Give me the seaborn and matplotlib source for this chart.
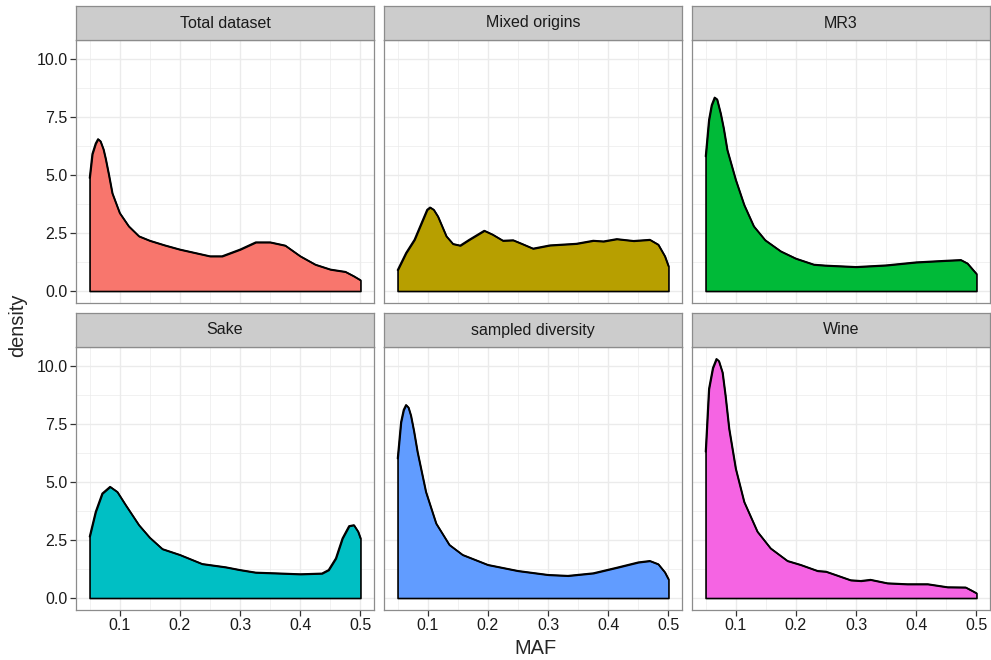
import matplotlib
matplotlib.use("Agg")
import matplotlib.pyplot as plt
import seaborn as sns
import numpy as np
import pandas as pd

sns.set_theme(style="white")
plt.rcParams['font.family'] = ['Liberation Sans', 'DejaVu Sans']

# facet labels and ggplot default hue colours
panels = ['Total dataset', 'Mixed origins', 'MR3', 'Sake', 'sampled diversity', 'Wine']
colors = ['#F8766D', '#B79F00', '#00BA38', '#00BFC4', '#619CFF', '#F564E3']

# density curves
maf_total = [0.05, 0.0545, 0.060, 0.064, 0.068, 0.073, 0.0766, 0.082, 0.0877, 0.1, 0.115, 0.132,
             0.15, 0.175, 0.2, 0.25, 0.27, 0.3, 0.326, 0.35, 0.375, 0.4, 0.425, 0.45, 0.475,
             0.489, 0.5]
dens_total = [4.86, 5.9, 6.35, 6.54, 6.45, 6.1, 5.7, 5.0, 4.21, 3.36, 2.79, 2.36,
              2.17, 1.97, 1.79, 1.5, 1.5, 1.79, 2.1, 2.1, 1.96, 1.5, 1.14, 0.93, 0.83,
              0.64, 0.47]

maf_mixed = [0.05, 0.064, 0.078, 0.092, 0.099, 0.104, 0.110, 0.117, 0.131, 0.142, 0.154, 0.169,
             0.194, 0.208, 0.225, 0.242, 0.256, 0.275, 0.303, 0.347, 0.375, 0.392, 0.414, 0.442,
             0.469, 0.483, 0.494, 0.5]
dens_mixed = [0.9, 1.64, 2.21, 3.07, 3.5, 3.6, 3.5, 3.21, 2.36, 2.03, 1.96, 2.21,
              2.6, 2.43, 2.17, 2.19, 2.04, 1.83, 1.97, 2.04, 2.17, 2.14, 2.24, 2.16,
              2.21, 2.0, 1.5, 1.07]

maf_mr3 = [0.05, 0.0555, 0.060, 0.065, 0.069, 0.075, 0.080, 0.086, 0.1, 0.114, 0.13, 0.149,
           0.175, 0.2, 0.23, 0.25, 0.3, 0.35, 0.4, 0.45, 0.474, 0.485, 0.5]
dens_mr3 = [5.79, 7.36, 8.0, 8.33, 8.25, 7.64, 7.0, 6.07, 4.79, 3.71, 2.79, 2.19,
            1.71, 1.4, 1.14, 1.1, 1.04, 1.11, 1.24, 1.31, 1.34, 1.19, 0.74]

maf_sake = [0.05, 0.06, 0.071, 0.084, 0.096, 0.11, 0.132, 0.15, 0.171, 0.2, 0.237, 0.276, 0.3,
            0.326, 0.359, 0.4, 0.436, 0.447, 0.459, 0.47, 0.481, 0.489, 0.496, 0.5]
dens_sake = [2.64, 3.71, 4.5, 4.79, 4.57, 4.0, 3.14, 2.6, 2.11, 1.86, 1.47, 1.33, 1.21,
             1.1, 1.07, 1.03, 1.06, 1.21, 1.71, 2.57, 3.1, 3.14, 2.86, 2.57]

maf_sampled = [0.05, 0.0556, 0.060, 0.064, 0.068, 0.072, 0.077, 0.083, 0.097, 0.114, 0.136,
               0.158, 0.2, 0.25, 0.3, 0.333, 0.375, 0.414, 0.45, 0.469, 0.483, 0.494, 0.5]
dens_sampled = [6.0, 7.57, 8.1, 8.31, 8.2, 7.86, 7.2, 6.29, 4.57, 3.21, 2.29,
                1.86, 1.43, 1.17, 1.0, 0.96, 1.07, 1.31, 1.54, 1.6, 1.46, 1.11, 0.81]

maf_wine = [0.05, 0.0555, 0.062, 0.068, 0.072, 0.078, 0.083, 0.089, 0.1, 0.114, 0.136, 0.158,
            0.186, 0.208, 0.236, 0.25, 0.269, 0.291, 0.308, 0.324, 0.352, 0.385, 0.419, 0.452,
            0.482, 0.493, 0.5]
dens_wine = [6.29, 9.0, 9.9, 10.29, 10.2, 9.71, 8.7, 7.29, 5.57, 4.14, 2.86, 2.14,
             1.6, 1.43, 1.17, 1.14, 0.97, 0.77, 0.74, 0.79, 0.64, 0.6, 0.6, 0.47,
             0.46, 0.31, 0.21]

curves = [(maf_total, dens_total), (maf_mixed, dens_mixed), (maf_mr3, dens_mr3),
          (maf_sake, dens_sake), (maf_sampled, dens_sampled), (maf_wine, dens_wine)]

x_ticks = [0.1, 0.2, 0.3, 0.4, 0.5]
y_ticks = [0.0, 2.5, 5.0, 7.5, 10.0]

W, H = 991, 660
fig = plt.figure(figsize=(W / 100, H / 100), dpi=100)

col_left = [76, 384, 692]
panel_w = 298
row_top = [40, 347]      # top of plotting area (px)
panel_h = 263
strip_h = 34

border = '#8c8c8c'
grid_col = '#ebebeb'

for i, (name, color, (xs, ys)) in enumerate(zip(panels, colors, curves)):
    r, c = divmod(i, 3)
    left = col_left[c] / W
    bottom = 1 - (row_top[r] + panel_h) / H
    ax = fig.add_axes([left, bottom, panel_w / W, panel_h / H])

    df = pd.DataFrame({'MAF': xs, 'density': ys})
    ax.fill_between(df['MAF'], 0, df['density'], facecolor=color,
                    edgecolor='black', linewidth=1.2, zorder=3)
    sns.lineplot(data=df, x='MAF', y='density', ax=ax, color='black',
                 linewidth=1.2, zorder=4, sort=False)

    ax.set_xlim(0.0275, 0.5225)
    ax.set_ylim(-0.515, 10.8)
    ax.set_xticks(x_ticks)
    ax.set_xticks([0.05, 0.15, 0.25, 0.35, 0.45], minor=True)
    ax.set_yticks(y_ticks)
    ax.set_yticks([1.25, 3.75, 6.25, 8.75], minor=True)
    ax.grid(True, which='major', color=grid_col, linewidth=1.0, zorder=0)
    ax.grid(True, which='minor', color=grid_col, linewidth=0.5, zorder=0)
    ax.set_axisbelow(True)
    ax.set_xlabel('')
    ax.set_ylabel('')
    for s in ax.spines.values():
        s.set_color(border)
        s.set_linewidth(0.9)

    ax.tick_params(which='major', length=4, width=0.9, color='#333333',
                   labelsize=11.5, labelcolor='#1a1a1a', pad=2)
    ax.tick_params(which='minor', length=0)
    ax.tick_params(axis='x', bottom=(r == 1), labelbottom=(r == 1))
    ax.tick_params(axis='y', left=(c == 0), labelleft=(c == 0))
    ax.set_xticklabels(['0.1', '0.2', '0.3', '0.4', '0.5'])
    ax.set_yticklabels(['0.0', '2.5', '5.0', '7.5', '10.0'])

    # facet strip
    sax = fig.add_axes([left, 1 - row_top[r] / H, panel_w / W, strip_h / H])
    sax.set_facecolor('#cccccc')
    sax.set_xticks([])
    sax.set_yticks([])
    for s in sax.spines.values():
        s.set_color(border)
        s.set_linewidth(0.9)
    sax.text(0.5, 0.5, name, ha='center', va='center', fontsize=11.5,
             color='#1a1a1a', transform=sax.transAxes)

fig.text(535 / W, 1 - 648 / H, 'MAF', ha='center', va='center', fontsize=14.4)
fig.text(18 / W, 1 - 325 / H, 'density', ha='center', va='center',
         fontsize=14.4, rotation=90)

fig.savefig('out.png', dpi=100)
